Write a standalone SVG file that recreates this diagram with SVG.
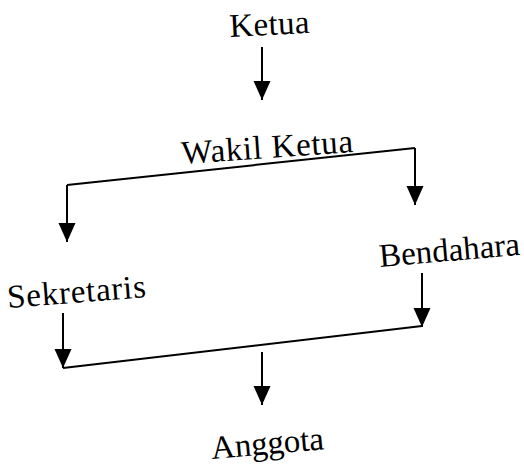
<svg xmlns="http://www.w3.org/2000/svg" width="524" height="468" viewBox="0 0 524 468">
<style>
.t{font-family:"Liberation Serif","Times New Roman",serif;font-size:33px;fill:#000}
.c{stroke:#000;stroke-width:2;fill:none}
.a{marker-end:url(#ah)}
</style>
<defs>
<marker id="ah" markerUnits="userSpaceOnUse" viewBox="0 -9 20 18" refX="19" refY="0" markerWidth="20" markerHeight="18" orient="auto">
<path d="M0,-8.5 L19,0 L0,8.5 z" fill="#000"/>
</marker>
</defs>
<rect width="524" height="468" fill="#fff"/>
<g id="connectors">
<path class="c a" d="M262,47 L262,100"/>
<path class="c" d="M67,185 L415,148"/>
<path class="c a" d="M67,185 L67,242"/>
<path class="c a" d="M415,148 L415,205"/>
<path class="c a" d="M63,313 L63,368"/>
<path class="c" d="M63,368 L422,326"/>
<path class="c a" d="M422,273 L422,327"/>
<path class="c a" d="M262,352 L262,405"/>
</g>
<g id="ketua"><text class="t" x="230" y="37" textLength="80" transform="rotate(-3 230 37)">Ketua</text></g>
<g id="wakil-ketua"><text class="t" x="182" y="164" textLength="172" transform="rotate(-4 182 164)">Wakil Ketua</text></g>
<g id="sekretaris"><text class="t" x="8" y="308" textLength="139" transform="rotate(-4.5 8 308)">Sekretaris</text></g>
<g id="bendahara"><text class="t" x="380" y="267" transform="rotate(-5 380 267)">Bendahara</text></g>
<g id="anggota"><text class="t" x="212" y="459" textLength="113" transform="rotate(-5 212 459)">Anggota</text></g>
</svg>
